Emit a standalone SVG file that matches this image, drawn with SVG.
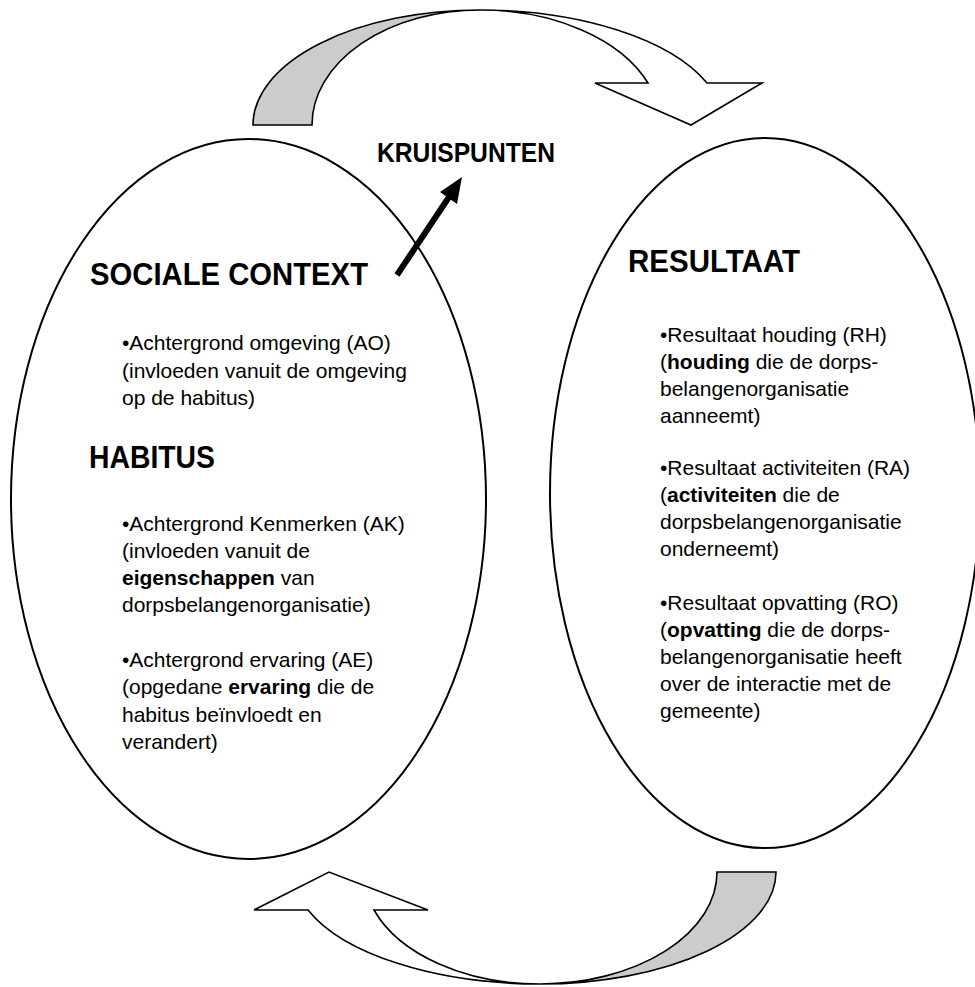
<svg xmlns="http://www.w3.org/2000/svg" width="975" height="987" viewBox="0 0 975 987">
<style>
.ell{fill:#ffffff;stroke:#000000;stroke-width:2}
.band{stroke:#000000;stroke-width:1.6;stroke-linejoin:miter}
.gray{fill:#cccccc}
.white{fill:#ffffff}
.h{font-family:"Liberation Sans",Arial,sans-serif;font-weight:bold;font-size:32px;fill:#000}
.t{font-family:"Liberation Sans",Arial,sans-serif;font-size:21px;fill:#000}
.b{font-weight:bold}
</style>
<rect width="975" height="987" fill="#ffffff"/>
<g id="sociale-context-habitus">
<ellipse class="ell" cx="248.5" cy="499" rx="237.5" ry="360"/>
<text class="h" x="90" y="285" textLength="278" lengthAdjust="spacingAndGlyphs">SOCIALE CONTEXT</text>
<text class="t" x="122" y="350">•Achtergrond omgeving (AO)</text>
<text class="t" x="122" y="378">(invloeden vanuit de omgeving</text>
<text class="t" x="122" y="405">op de habitus)</text>
<text class="h" x="89" y="468" textLength="126" lengthAdjust="spacingAndGlyphs">HABITUS</text>
<text class="t" x="122" y="531">•Achtergrond Kenmerken (AK)</text>
<text class="t" x="122" y="558">(invloeden vanuit de</text>
<text class="t" x="122" y="585"><tspan class="b">eigenschappen</tspan> van</text>
<text class="t" x="122" y="612">dorpsbelangenorganisatie)</text>
<text class="t" x="122" y="667">•Achtergrond ervaring (AE)</text>
<text class="t" x="122" y="694">(opgedane <tspan class="b">ervaring</tspan> die de</text>
<text class="t" x="122" y="722">habitus beïnvloedt en</text>
<text class="t" x="122" y="749">verandert)</text>
</g>
<g id="resultaat">
<ellipse class="ell" cx="765" cy="493" rx="215" ry="355"/>
<text class="h" x="628" y="272" textLength="172" lengthAdjust="spacingAndGlyphs">RESULTAAT</text>
<text class="t" x="660" y="342">•Resultaat houding (RH)</text>
<text class="t" x="660" y="369">(<tspan class="b">houding</tspan> die de dorps-</text>
<text class="t" x="660" y="396">belangenorganisatie</text>
<text class="t" x="660" y="423">aanneemt)</text>
<text class="t" x="660" y="475">•Resultaat activiteiten (RA)</text>
<text class="t" x="660" y="502">(<tspan class="b">activiteiten</tspan> die de</text>
<text class="t" x="660" y="529">dorpsbelangenorganisatie</text>
<text class="t" x="660" y="556">onderneemt)</text>
<text class="t" x="660" y="610">•Resultaat opvatting (RO)</text>
<text class="t" x="660" y="637">(<tspan class="b">opvatting</tspan> die de dorps-</text>
<text class="t" x="660" y="664">belangenorganisatie heeft</text>
<text class="t" x="660" y="691">over de interactie met de</text>
<text class="t" x="660" y="718">gemeente)</text>
</g>
<g id="kruispunten">
<text class="h" x="377" y="162" font-size="28" style="font-size:28px" textLength="178" lengthAdjust="spacingAndGlyphs">KRUISPUNTEN</text>
</g>
<g id="connectors">
<g id="arrow-top">
<path class="band gray" d="M253,125 A227,115 0 0 1 480,10 A168,115 0 0 0 312,125 Z"/>
<path class="band white" d="M480,10 A244,115 0 0 1 707,83 L762,83 L691,125 L595,83 L648,83 A180,115 0 0 0 480,10 Z"/>
</g>
<g id="arrow-bottom">
<path class="band gray" d="M717,872 A177,112 0 0 1 540,984 A236,112 0 0 0 776,872 Z"/>
<path class="band white" d="M540,984 A247,112 0 0 1 308,910 L254,910 L329,872 L428,910 L374,910 A176,112 0 0 0 540,984 Z"/>
</g>
<g id="arrow-kruispunten">
<line x1="397" y1="275" x2="449" y2="197" stroke="#000" stroke-width="6"/>
<polygon points="462,177 457,204 440,192" fill="#000"/>
</g>
</g>
</svg>
